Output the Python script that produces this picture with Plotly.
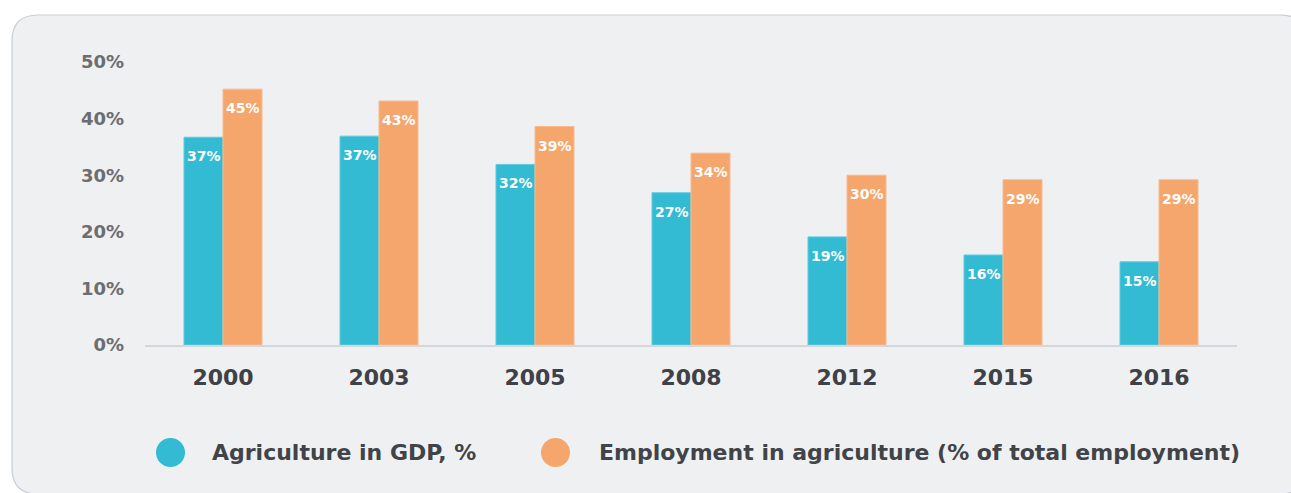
import plotly.graph_objects as go

years = ["2000", "2003", "2005", "2008", "2012", "2015", "2016"]
gdp_share = [36.7, 36.9, 31.9, 26.9, 19.1, 15.9, 14.7]
employment_share = [45.2, 43.1, 38.6, 33.9, 30.0, 29.2, 29.2]
series_names = ["Agriculture in GDP, %", "Employment in agriculture (% of total employment)"]
y_ticks = [0, 10, 20, 30, 40, 50]
y_tick_labels = [f"{v}%" for v in y_ticks]

TEAL = "#33bbd4"
ORANGE = "#f5a66c"
FONT = "DejaVu Sans"

# plot area in pixels
W, H = 1291, 493
L, R, T, B = 145, 54, 62, 148
PW, PH = W - L - R, H - T - B


def px_x(p):
    return (p - L) / PW


def px_y(p):
    return (H - B - p) / PH


fig = go.Figure()
fig.add_trace(go.Bar(x=years, y=gdp_share, name=series_names[0], marker=dict(color=TEAL, line=dict(color="#5fcbe0", width=1)), showlegend=False))
fig.add_trace(go.Bar(x=years, y=employment_share, name=series_names[1], marker=dict(color=ORANGE, line=dict(color="#f8bb8f", width=1)), showlegend=False))

annotations = []
for vals, shift in ((gdp_share, -19.5), (employment_share, 19.5)):
    for i, v in enumerate(vals):
        annotations.append(dict(x=i, y=v, xref="x", yref="y", text=f"{int(v + 0.5)}%", showarrow=False,
                                xshift=shift, yshift=-19, font=dict(family=FONT, size=14, color="white", weight=700)))

# legend drawn manually (circle markers)
legend_pos = [(170.5, 210), (555.5, 597)]
shapes = []
# panel background with rounded corners
x0, y0, x1, y1, r = 12, 15, 1306, 494, 26
X0, Y0, X1, Y1 = px_x(x0), px_y(y0), px_x(x1), px_y(y1)
rx, ry = r / PW, r / PH
path = (f"M {X0+rx} {Y0} L {X1-rx} {Y0} Q {X1} {Y0} {X1} {Y0-ry} L {X1} {Y1+ry} Q {X1} {Y1} {X1-rx} {Y1} "
        f"L {X0+rx} {Y1} Q {X0} {Y1} {X0} {Y1+ry} L {X0} {Y0-ry} Q {X0} {Y0} {X0+rx} {Y0} Z")
shapes.append(dict(type="path", path=path, xref="paper", yref="paper", fillcolor="#eff0f2",
                   line=dict(color="#c8cdd3", width=1.2), layer="below"))
for (cx, tx), name, col in zip(legend_pos, series_names, (TEAL, ORANGE)):
    cy, rad = 452.5, 14.5
    shapes.append(dict(type="circle", xref="paper", yref="paper", x0=px_x(cx - rad), x1=px_x(cx + rad),
                       y0=px_y(cy + rad), y1=px_y(cy - rad), fillcolor=col, line=dict(width=0)))
    annotations.append(dict(x=px_x(tx), y=px_y(cy), xref="paper", yref="paper", text=name, showarrow=False,
                            xanchor="left", yanchor="middle", font=dict(family=FONT, size=22, color="#404348", weight=700)))

fig.update_layout(
    width=W, height=H,
    margin=dict(l=L, r=R, t=T, b=B),
    paper_bgcolor="white", plot_bgcolor="rgba(0,0,0,0)",
    barmode="group", bargap=0.5, bargroupgap=0,
    shapes=shapes, annotations=annotations,
    xaxis=dict(type="category", range=[-0.5, len(years) - 0.5], showline=True, linecolor="#d4d6d9", linewidth=2,
               showgrid=False, ticks="", fixedrange=True,
               tickfont=dict(family=FONT, size=22, color="#3e4146", weight=700), ticklabelstandoff=12),
    yaxis=dict(range=[0, 50], tickmode="array", tickvals=y_ticks, ticktext=y_tick_labels, showgrid=False, zeroline=False,
               fixedrange=True, tickfont=dict(family=FONT, size=18, color="#6b6d70", weight=700), ticklabelstandoff=20),
)

fig.write_html("out.html", config={"displayModeBar": False},
               post_script="document.body.style.margin='0';document.body.style.overflow='hidden';")
